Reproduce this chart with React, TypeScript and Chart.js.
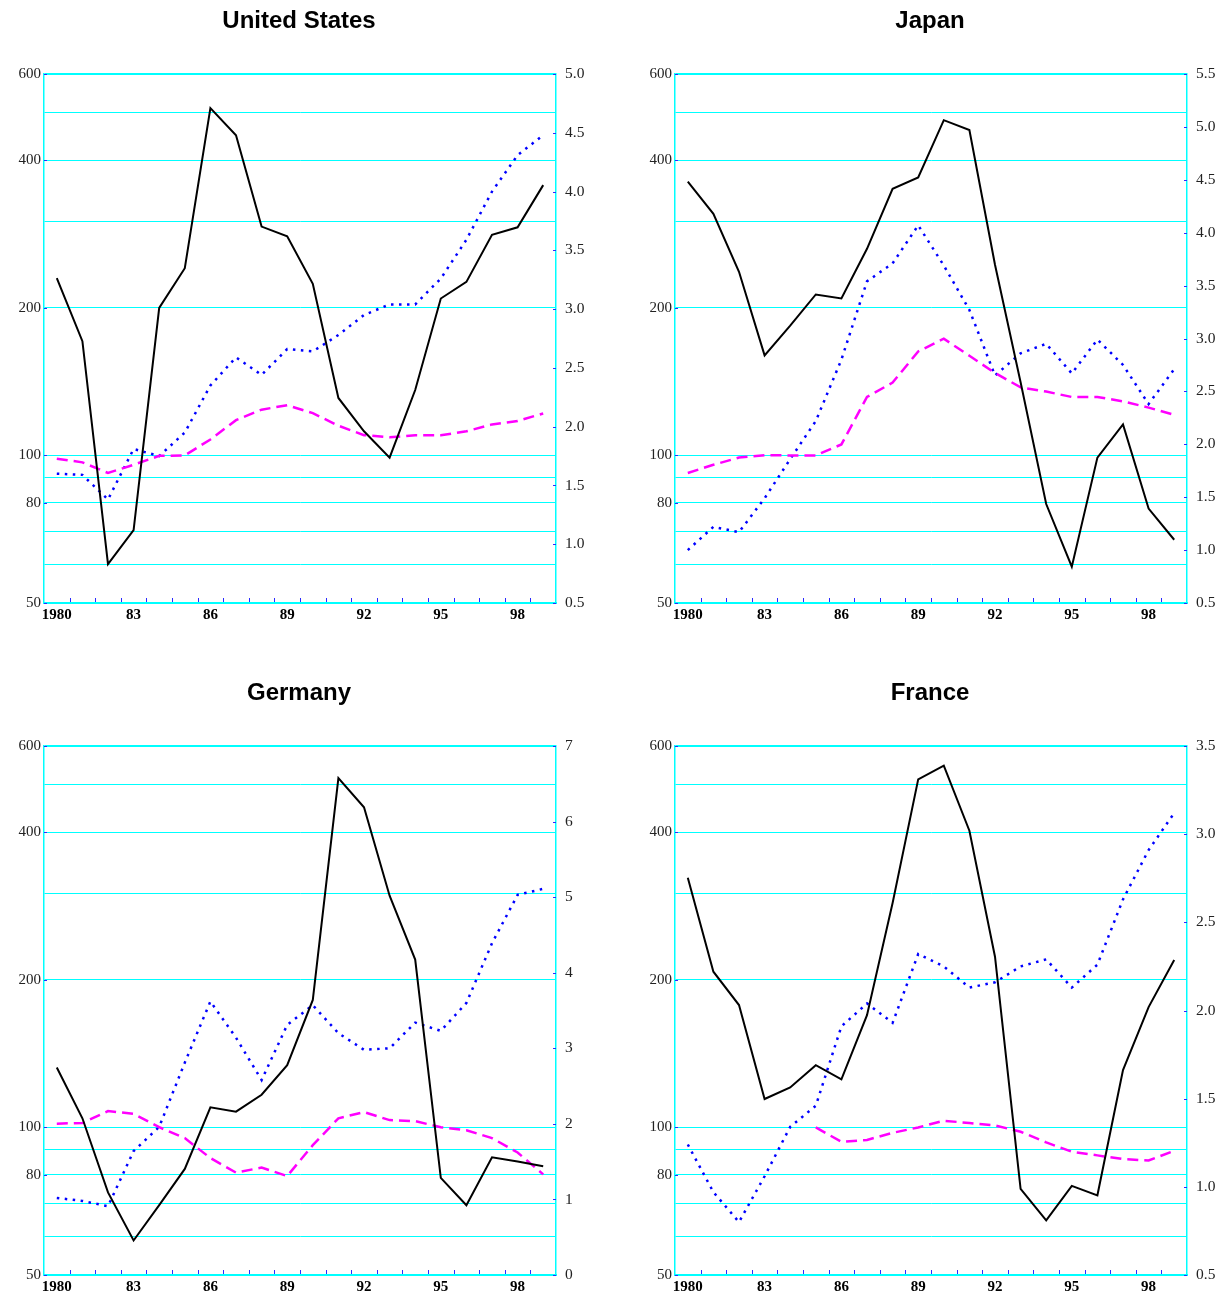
import React, { useEffect, useRef } from "react";
import { Chart, registerables } from "chart.js";

Chart.register(...registerables);

const YEARS = ["1980","1981","1982","1983","1984","1985","1986","1987","1988","1989","1990","1991","1992","1993","1994","1995","1996","1997","1998","1999"];
const YEAR_LABELS = ["1980","","","83","","","86","","","89","","","92","","","95","","","98",""];

const LOG_GRID_VALUES = [50, 60, 70, 80, 90, 100, 200, 300, 400, 500, 600];
const LOG_LABEL_VALUES = [50, 80, 100, 200, 400, 600];

const US_BLACK = [230, 171, 60, 70.4, 200, 241, 511, 450, 293, 280, 224, 131, 112, 99, 136, 209, 226, 282, 292, 356];
const US_BLUE = [1.6, 1.59, 1.38, 1.81, 1.75, 1.95, 2.35, 2.59, 2.44, 2.66, 2.64, 2.78, 2.95, 3.04, 3.04, 3.26, 3.59, 4.0, 4.31, 4.48];
const US_MAGENTA = [98.5, 96.8, 92.1, 95.7, 99.8, 100, 107.8, 118, 124, 126.6, 122, 115, 110, 108.9, 110, 109.9, 112, 115.7, 117.6, 121.8];

const JP_BLACK = [362, 311, 237, 160, 184, 213, 209, 264, 350, 369, 483, 461, 245, 141, 79.6, 59.3, 99, 115.7, 77.9, 67.3];
const JP_BLUE = [1.0, 1.22, 1.17, 1.49, 1.86, 2.22, 2.8, 3.54, 3.71, 4.07, 3.69, 3.27, 2.65, 2.86, 2.95, 2.67, 2.99, 2.75, 2.38, 2.71];
const JP_MAGENTA = [92.1, 95.7, 99, 100.1, 100, 100, 105.3, 131.6, 140.8, 163, 173, 159.7, 147.3, 137.7, 135, 131.6, 131.6, 128.9, 125.2, 121];

const DE_BLACK = [132.5, 104.4, 73.7, 58.8, 69.4, 82.3, 109.9, 107.7, 116.6, 134, 182, 516, 450, 297, 220, 78.9, 69.4, 86.9, 85.2, 83.3];
const DE_BLUE = [1.02, 0.98, 0.91, 1.64, 1.96, 2.81, 3.62, 3.14, 2.58, 3.31, 3.57, 3.2, 2.98, 3.0, 3.34, 3.23, 3.6, 4.39, 5.03, 5.11];
const DE_MAGENTA = [101.8, 102.1, 108, 106.6, 100.1, 95.1, 86.6, 80.9, 82.8, 79.6, 92, 104.4, 107.5, 103.5, 103, 100.1, 98.7, 95.1, 88.9, 80.2];

const FR_BLACK = [323, 207.8, 177.7, 114.3, 120.7, 134, 125.3, 169.5, 287, 513, 547, 403, 223, 74.9, 64.6, 76, 72.7, 130.9, 176, 219.5];
const FR_BLUE = [1.24, 0.97, 0.8, 1.06, 1.34, 1.46, 1.91, 2.04, 1.93, 2.32, 2.25, 2.13, 2.16, 2.25, 2.29, 2.13, 2.26, 2.63, 2.91, 3.12];
const FR_MAGENTA = [null, null, null, null, null, 100, 93.5, 94.3, 97.5, 100, 103.2, 102.1, 101, 98, 93.2, 89.2, 87.7, 86.2, 85.6, 89.6];

type Panel = {
  title: string;
  left: number;
  top: number;
  black: (number | null)[];
  blue: (number | null)[];
  magenta: (number | null)[];
  rMin: number;
  rMax: number;
  rStep: number;
  rDecimals: number;
};

const PANELS: Panel[] = [
  { title: "United States", left: 0, top: 0, black: US_BLACK, blue: US_BLUE, magenta: US_MAGENTA, rMin: 0.5, rMax: 5.0, rStep: 0.5, rDecimals: 1 },
  { title: "Japan", left: 631, top: 0, black: JP_BLACK, blue: JP_BLUE, magenta: JP_MAGENTA, rMin: 0.5, rMax: 5.5, rStep: 0.5, rDecimals: 1 },
  { title: "Germany", left: 0, top: 672, black: DE_BLACK, blue: DE_BLUE, magenta: DE_MAGENTA, rMin: 0, rMax: 7, rStep: 1, rDecimals: 0 },
  { title: "France", left: 631, top: 672, black: FR_BLACK, blue: FR_BLUE, magenta: FR_MAGENTA, rMin: 0.5, rMax: 3.5, rStep: 0.5, rDecimals: 1 },
];

const CYAN = "#00ffff";
const TICK_BLUE = "#2a2aff";
const SERIF = "'Liberation Serif', 'Times New Roman', serif";
const SANS = "'Liberation Sans', Arial, sans-serif";

const innerTicks = {
  id: "innerTicks",
  afterDraw(chart: any) {
    const ctx = chart.ctx;
    const area = chart.chartArea;
    const x = chart.scales.x;
    const y = chart.scales.y;
    const y1 = chart.scales.y1;
    ctx.save();
    ctx.strokeStyle = TICK_BLUE;
    ctx.lineWidth = 1;
    ctx.beginPath();
    const n = YEARS.length;
    for (let i = 1; i < n; i++) {
      const px = Math.round((x.getPixelForValue(i - 1) + x.getPixelForValue(i)) / 2) + 0.5;
      ctx.moveTo(px, area.bottom - 1);
      ctx.lineTo(px, area.bottom - 5);
    }
    LOG_LABEL_VALUES.forEach((v) => {
      const py = Math.round(y.getPixelForValue(v)) + 0.5;
      ctx.moveTo(area.left, py);
      ctx.lineTo(area.left + 3, py);
    });
    y1.ticks.forEach((t: any) => {
      const py = Math.round(y1.getPixelForValue(t.value)) + 0.5;
      ctx.moveTo(area.right, py);
      ctx.lineTo(area.right - 3, py);
    });
    ctx.stroke();
    ctx.restore();
  },
};

function PanelChart({ panel }: { panel: Panel }) {
  const ref = useRef<HTMLCanvasElement | null>(null);
  useEffect(() => {
    if (!ref.current) return;
    const chart = new Chart(ref.current, {
      type: "line",
      data: {
        labels: YEARS,
        datasets: [
          {
            data: panel.black,
            yAxisID: "y",
            borderColor: "#000000",
            borderWidth: 2,
            pointRadius: 0,
            tension: 0,
            order: 0,
            spanGaps: false,
          },
          {
            data: panel.blue,
            yAxisID: "y1",
            borderColor: "#0000ff",
            borderWidth: 2.5,
            borderDash: [2.5, 5.5],
            pointRadius: 0,
            tension: 0,
            order: 2,
          },
          {
            data: panel.magenta,
            yAxisID: "y",
            borderColor: "#ff00ff",
            borderWidth: 2.5,
            borderDash: [11, 6],
            pointRadius: 0,
            tension: 0,
            order: 1,
          },
        ],
      },
      options: {
        animation: false,
        responsive: false,
        maintainAspectRatio: false,
        layout: { padding: 0 },
        plugins: {
          legend: { display: false },
          tooltip: { enabled: false },
          title: {
            display: true,
            text: panel.title,
            color: "#000000",
            font: { family: SANS, size: 24, weight: "bold", lineHeight: 1.2 },
            padding: { top: 7, bottom: 38.2 },
          },
        },
        scales: {
          x: {
            type: "category",
            offset: true,
            grid: { display: false, drawTicks: false },
            border: { display: true, color: CYAN, width: 2 },
            ticks: {
              autoSkip: false,
              maxRotation: 0,
              minRotation: 0,
              padding: 3,
              color: "#000000",
              font: { family: SERIF, size: 15, weight: "bold" },
              callback: (_v: any, i: number) => YEAR_LABELS[i],
            },
            afterFit: (s: any) => {
              s.height = 22;
            },
          },
          y: {
            type: "logarithmic",
            position: "left",
            min: 50,
            max: 600,
            grid: {
              color: CYAN,
              lineWidth: (c: any) => (c.tick && c.tick.value === 600 ? 2 : 1),
              drawTicks: false,
            },
            border: { display: true, color: CYAN, width: 1.5 },
            afterBuildTicks: (s: any) => {
              s.ticks = LOG_GRID_VALUES.map((v) => ({ value: v }));
            },
            ticks: {
              autoSkip: false,
              padding: 3,
              color: "#222222",
              font: { family: SERIF, size: 15 },
              callback: (v: any) => (LOG_LABEL_VALUES.includes(Number(v)) ? String(v) : ""),
            },
            afterFit: (s: any) => {
              s.width = 44;
            },
          },
          y1: {
            type: "linear",
            position: "right",
            min: panel.rMin,
            max: panel.rMax,
            grid: { display: false, drawTicks: false },
            border: { display: true, color: CYAN, width: 1.5 },
            ticks: {
              stepSize: panel.rStep,
              autoSkip: false,
              padding: 9,
              color: "#222222",
              font: { family: SERIF, size: 15.5 },
              callback: (v: any) => Number(v).toFixed(panel.rDecimals),
            },
            afterFit: (s: any) => {
              s.width = 42;
            },
          },
        },
      } as any,
      plugins: [innerTicks],
    });
    return () => chart.destroy();
  }, [panel]);
  return (
    <canvas
      ref={ref}
      width={598}
      height={625}
      style={{ position: "absolute", left: panel.left, top: panel.top, width: 598, height: 625 }}
    />
  );
}

export default function App() {
  return (
    <div style={{ position: "absolute", left: 0, top: 0, width: 1229, height: 1297, background: "#ffffff", overflow: "hidden" }}>
      {PANELS.map((p) => (
        <PanelChart key={p.title} panel={p} />
      ))}
    </div>
  );
}
